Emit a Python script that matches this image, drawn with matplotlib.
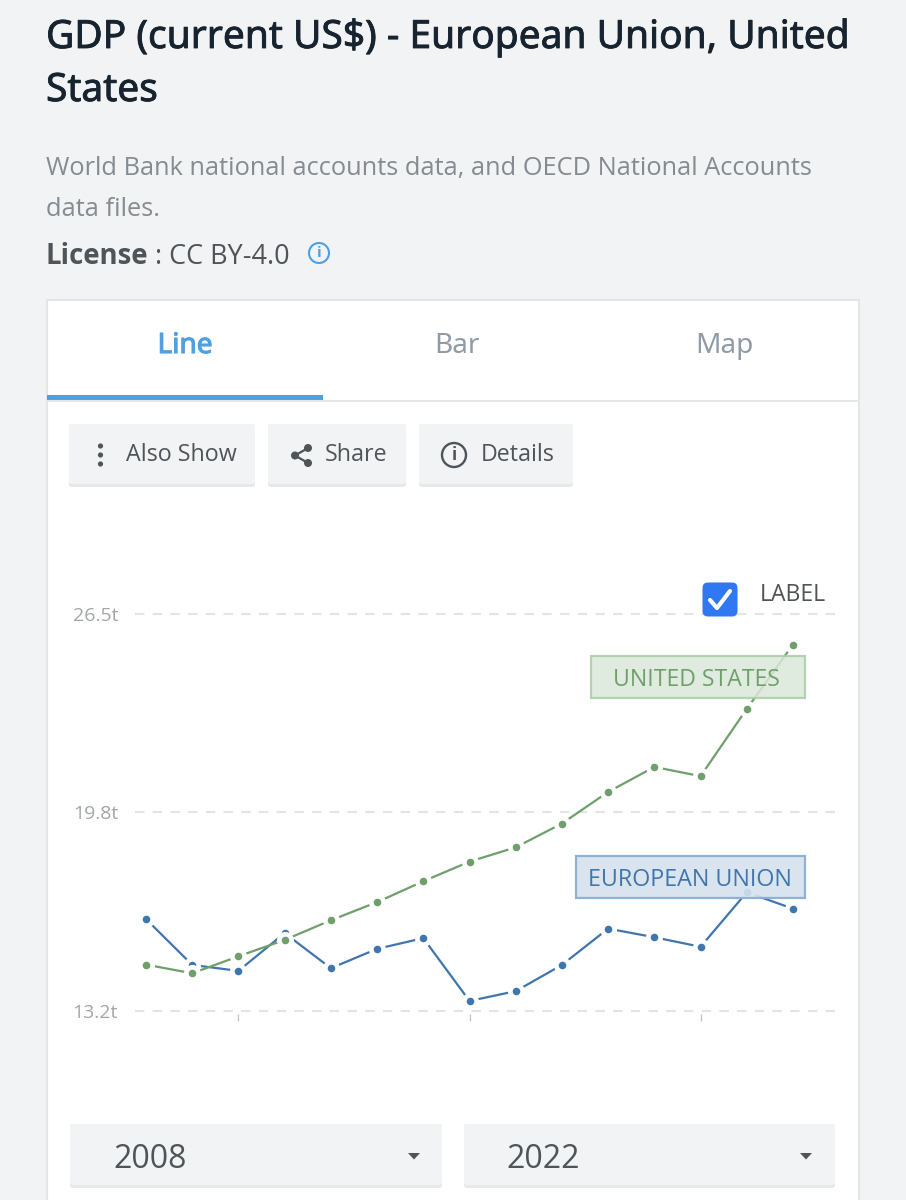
import matplotlib
matplotlib.use("Agg")
import matplotlib.pyplot as plt
import matplotlib.patheffects as pe
from matplotlib.patches import Rectangle, FancyBboxPatch, Circle, Polygon

years = [2008, 2009, 2010, 2011, 2012, 2013, 2014, 2015, 2016, 2017, 2018, 2019, 2020, 2021, 2022]
# trillions of US$
united_states = [14.74, 14.45, 15.02, 15.57, 16.23, 16.84, 17.54, 18.20, 18.68, 19.48, 20.54, 21.38, 21.07, 23.33, 25.49]
european_union = [16.27, 14.73, 14.53, 15.80, 14.62, 15.27, 15.63, 13.52, 13.85, 14.73, 15.95, 15.66, 15.34, 17.17, 16.62]
x_ticks = [2010, 2015, 2020]
y_ticks = [13.2, 19.85, 26.5]
y_labels = ["13.2t", "19.8t", "26.5t"]
tabs = ["Line", "Bar", "Map"]

W, H = 906, 1200
BG = "#f1f3f5"
DARK = "#4f5459"
GREEN = "#6f9f6b"
BLUE = "#3f76ad"

plt.rcParams['font.family'] = ['Open Sans', 'Noto Sans', 'DejaVu Sans']

fig = plt.figure(figsize=(W / 100, H / 100), dpi=100, facecolor=BG)


def px(size):
    return size * 0.72


def full_axes(z):
    a = fig.add_axes([0, 0, 1, 1], zorder=z)
    a.set_xlim(0, W)
    a.set_ylim(H, 0)
    a.axis("off")
    return a


# no medium weight installed, so thicken the regular one a little
medium = [pe.withStroke(linewidth=0.6, foreground="#17242f")]

ui = full_axes(0)

# heading
ui.text(46, 38, "GDP (current US$) - European Union, United", fontsize=px(38.9), color="#17242f",
        family="Noto Sans", va="center", ha="left", path_effects=medium)
ui.text(46, 91, "States", fontsize=px(38.9), color="#17242f", family="Noto Sans", va="center", ha="left",
        path_effects=medium)
ui.text(46, 168, "World Bank national accounts data, and OECD National Accounts", fontsize=px(25.4),
        color="#858b91", va="center", ha="left")
ui.text(46, 210, "data files.", fontsize=px(25.4), color="#858b91", va="center", ha="left")
ui.text(46, 257, "License", fontsize=px(27.5), color=DARK, weight="bold", va="center", ha="left")
ui.text(155, 257, ": CC BY-4.0", fontsize=px(27), color=DARK, va="center", ha="left")
ui.add_patch(Circle((319, 253), 10, fc="none", ec="#4f9fe3", lw=1.5))
ui.text(319, 253, "i", fontsize=px(15), color="#4f9fe3", va="center", ha="center", weight="bold")

# card and tabs
ui.add_patch(Rectangle((47, 300), 812, 910, fc="white", ec="#e3e5e8", lw=1.5))
ui.plot([47, 859], [401, 401], color="#e6e8ea", lw=1.5)
ui.add_patch(Rectangle((47, 395), 276, 5, fc="#4f9fe3", ec="none"))
for label, x, col in zip(tabs, [185, 457, 724], ["#4f9fe3", "#8f9ba6", "#8f9ba6"]):
    t = ui.text(x, 346, label, fontsize=px(28), color=col, family="Noto Sans", va="center", ha="center")
    if label == "Line":
        t.set_path_effects([pe.withStroke(linewidth=0.8, foreground=col)])


def button(x0, x1, y0, y1):
    ui.add_patch(FancyBboxPatch((x0 + 3, y0 + 3), x1 - x0 - 6, y1 - y0 - 6, boxstyle="round,pad=3",
                                fc="#e7e8ea", ec="none"))
    ui.add_patch(FancyBboxPatch((x0 + 3, y0 + 3), x1 - x0 - 6, y1 - y0 - 9, boxstyle="round,pad=3",
                                fc=BG, ec="none"))


button(69, 255, 424, 487)
button(268, 406, 424, 487)
button(419, 573, 424, 487)
button(70, 442, 1124, 1188)
button(464, 835, 1124, 1188)

# also show
for y in [446, 455, 464]:
    ui.add_patch(Circle((100.5, y), 2.6, fc=DARK, ec="none"))
ui.text(126, 455, "Also Show", fontsize=px(23.2), color=DARK, va="center", ha="left")

# share
ui.plot([308, 295, 308], [448, 455.5, 463], color=DARK, lw=1.6)
for cx, cy in [(308, 448), (295, 455.5), (308, 463)]:
    ui.add_patch(Circle((cx, cy), 4, fc=DARK, ec="none"))
ui.text(325, 455, "Share", fontsize=px(23.2), color=DARK, va="center", ha="left")

# details
ui.add_patch(Circle((454, 455), 12, fc="none", ec=DARK, lw=1.7))
ui.text(454, 455, "i", fontsize=px(17), color=DARK, va="center", ha="center", weight="bold")
ui.text(481, 455, "Details", fontsize=px(23.2), color=DARK, va="center", ha="left")

# year dropdowns
ui.text(113, 1159, "2008", fontsize=px(32), color=DARK, va="center", ha="left")
ui.text(506, 1159, "2022", fontsize=px(32), color=DARK, va="center", ha="left")
for x in [414, 806]:
    ui.add_patch(Polygon([(x - 6, 1153), (x + 6, 1153), (x, 1159.5)], fc=DARK, ec="none"))

# the chart itself: px x 135..839, y 600..1014
step = (793 - 146) / 14.0
y_per_px = (26.5 - 13.2) / (1010.5 - 614.5)
ax = fig.add_axes([135 / W, 1 - 1014 / H, (839 - 135) / W, (1014 - 600) / H], zorder=1)
ax.patch.set_alpha(0)
ax.set_xlim(2008 - (146 - 135) / step, 2008 + (839 - 146) / step)
ax.set_ylim(13.2 - (1014 - 1010.5) * y_per_px, 26.5 + (614.5 - 600) * y_per_px)
for s in ax.spines.values():
    s.set_visible(False)
ax.set_xticks(x_ticks)
ax.set_xticklabels([])
ax.tick_params(axis="x", length=px(7), width=1, color="#c4c8cc")
ax.set_yticks(y_ticks)
ax.set_yticklabels(y_labels, fontsize=px(19.5), color="#a3a6a9")
ax.tick_params(axis="y", length=0, pad=px(17))
ax.grid(axis="y", color="#e2e4e6", lw=1.5, dashes=(4.5, 4))
ax.set_axisbelow(True)

for vals, col in [(european_union, BLUE), (united_states, GREEN)]:
    ax.plot(years, vals, color=col, lw=1.6, clip_on=False)
    ax.plot(years, vals, ls="none", marker="o", ms=px(17), mfc="white", mec="none", clip_on=False)
    ax.plot(years, vals, ls="none", marker="o", ms=px(7.6), mfc=col, mec="none", clip_on=False)

# series labels and the checkbox sit on top of the lines
top = full_axes(2)
top.add_patch(Rectangle((590.5, 655.5), 214, 42, fc="#dbe8da", ec="#a9cca6", lw=1.6, alpha=0.85))
top.text(696, 679.5, "UNITED STATES", fontsize=px(23), color=GREEN, va="center", ha="center")
top.add_patch(Rectangle((576, 856), 228.5, 42, fc="#d5e2ee", ec="#86abd2", lw=1.6, alpha=0.9))
top.text(690, 879.5, "EUROPEAN UNION", fontsize=px(23.2), color=BLUE, va="center", ha="center")

top.add_patch(FancyBboxPatch((708, 588), 24, 23, boxstyle="round,pad=5.5", fc="#2f78f2", ec="none"))
top.plot([710, 717, 730], [600, 608, 591], color="white", lw=3, solid_capstyle="round",
         solid_joinstyle="round")
top.text(760, 595, "LABEL", fontsize=px(23), color=DARK, va="center", ha="left")

fig.savefig("out.png", dpi=100, facecolor=BG)
